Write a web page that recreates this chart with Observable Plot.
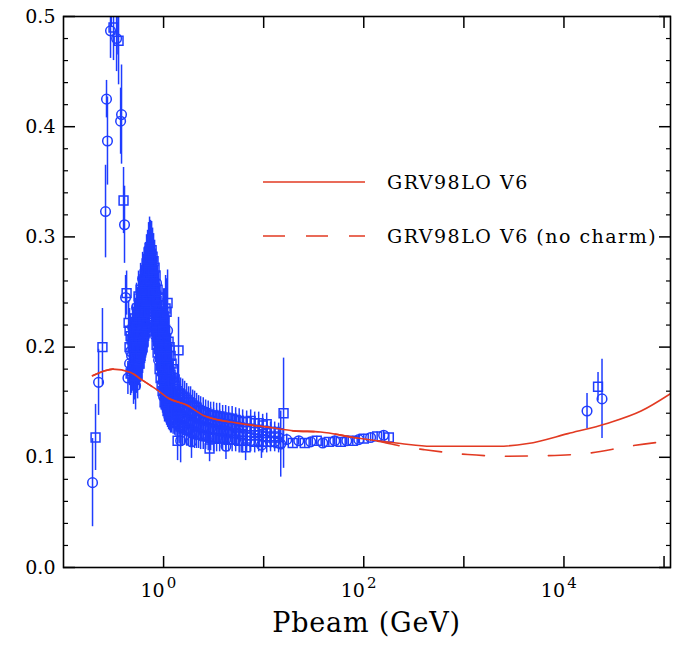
<!DOCTYPE html>
<html><head><meta charset="utf-8">
<script src="https://cdn.jsdelivr.net/npm/d3@7"></script>
<script src="https://cdn.jsdelivr.net/npm/@observablehq/plot@0.6"></script>
<style>
body{margin:0;background:#fff;}
#wrap{position:relative;width:679px;height:646px;font-family:"DejaVu Serif",serif;background:#fff;}
#legend{position:absolute;left:0;top:0;pointer-events:none;}
#xtitle{position:absolute;left:63px;width:607px;top:607px;text-align:center;font-size:27px;letter-spacing:0.8px;color:#000;}
</style></head><body><div id="wrap"></div>
<script>
// ---- data: isolated low-momentum points ----
const lowP = [0.195, 0.209, 0.224, 0.245, 0.263, 0.269, 0.275, 0.295, 0.300, 0.316, 0.339, 0.350, 0.355, 0.372, 0.380, 0.398, 0.407, 0.417, 0.427, 0.447, 0.440];
const lowV = [0.077, 0.118, 0.168, 0.200, 0.323, 0.425, 0.387, 0.487, 0.530, 0.490, 0.480, 0.515, 0.478, 0.405, 0.411, 0.333, 0.311, 0.245, 0.249, 0.222, 0.172];
const lowE = [0.040, 0.030, 0.030, 0.035, 0.042, 0.017, 0.040, 0.025, 0.040, 0.030, 0.030, 0.050, 0.040, 0.030, 0.045, 0.030, 0.035, 0.020, 0.020, 0.020, 0.015];
const lowS = ["o","s","o","s","o","o","o","o","o","s","o","s","s","o","o","s","o","o","s","s","o"];

// ---- resonance peak cluster ----
const peakP = [0.457,0.457,0.457, 0.479,0.479,0.479, 0.501,0.501,0.501,0.501, 0.525,0.525,0.525,0.525, 0.550,0.550,0.550,0.550, 0.575,0.575,0.575,0.575, 0.603,0.603,0.603,0.603, 0.631,0.631,0.631,0.631, 0.661,0.661,0.661,0.661, 0.692,0.692,0.692,0.692, 0.724,0.724,0.724,0.724, 0.741,0.741, 0.759,0.759,0.759,0.759, 0.794,0.794,0.794,0.794, 0.832,0.832,0.832,0.832, 0.871,0.871,0.871,0.871, 0.912,0.912,0.912,0.912, 0.955,0.955,0.955,0.955, 1.000,1.000,1.000,1.000,1.000, 1.047,1.047,1.047,1.047,1.047, 1.096,1.096,1.096,1.096,1.096,1.096, 1.148,1.148,1.148,1.148,1.148, 1.202,1.202,1.202,1.202,1.202, 1.288,1.288,1.288,1.288];
const peakV = [0.185,0.200,0.215, 0.178,0.192,0.207, 0.170,0.183,0.198,0.212, 0.165,0.190,0.205,0.222, 0.175,0.195,0.213,0.232, 0.185,0.205,0.222,0.240, 0.195,0.213,0.232,0.250, 0.205,0.225,0.243,0.258, 0.215,0.235,0.255,0.270, 0.225,0.245,0.262,0.280, 0.240,0.258,0.275,0.290, 0.268,0.285, 0.235,0.255,0.272,0.288, 0.225,0.245,0.262,0.278, 0.210,0.230,0.250,0.265, 0.195,0.215,0.235,0.252, 0.180,0.200,0.218,0.238, 0.165,0.185,0.205,0.222, 0.155,0.170,0.190,0.208,0.228, 0.148,0.162,0.178,0.196,0.235, 0.142,0.155,0.170,0.185,0.240,0.215, 0.138,0.150,0.163,0.178,0.200, 0.135,0.146,0.158,0.172,0.185, 0.132,0.142,0.153,0.165];
const peakE = [0.020,0.020,0.020, 0.020,0.020,0.020, 0.022,0.022,0.022,0.022, 0.022,0.022,0.022,0.022, 0.022,0.022,0.022,0.022, 0.024,0.024,0.024,0.024, 0.024,0.024,0.024,0.024, 0.025,0.025,0.025,0.025, 0.025,0.025,0.025,0.025, 0.026,0.026,0.026,0.026, 0.028,0.028,0.028,0.028, 0.030,0.030, 0.026,0.026,0.026,0.026, 0.025,0.025,0.025,0.025, 0.024,0.024,0.024,0.024, 0.022,0.022,0.022,0.022, 0.020,0.020,0.020,0.020, 0.020,0.020,0.020,0.020, 0.018,0.018,0.018,0.018,0.025, 0.016,0.016,0.016,0.016,0.030, 0.015,0.015,0.015,0.015,0.030,0.020, 0.014,0.014,0.014,0.014,0.020, 0.013,0.013,0.013,0.013,0.018, 0.012,0.012,0.012,0.012];
const peakS = ["o","s","s", "s","o","s", "o","s","s","o", "o","s","s","s", "s","o","s","s", "s","s","o","s", "o","s","s","s", "s","s","o","s", "s","s","s","o", "o","s","s","s", "s","s","o","s", "s","o", "s","o","s","s", "s","s","o","s", "o","s","s","s", "s","s","o","s", "s","o","s","s", "s","s","s","o", "o","s","s","s","s", "s","s","o","s","s", "s","o","s","s","s","o", "o","s","s","s","s", "s","s","o","s","s", "s","o","s","s"];

// ---- additional peak measurements (interleaved) ----
const peak2P = [0.468,0.468,0.468, 0.490,0.490,0.490, 0.513,0.513,0.513,0.513, 0.537,0.537,0.537,0.537, 0.562,0.562,0.562,0.562, 0.589,0.589,0.589,0.589, 0.617,0.617,0.617,0.617, 0.646,0.646,0.646,0.646, 0.676,0.676,0.676,0.676, 0.708,0.708,0.708,0.708, 0.776,0.776,0.776,0.776, 0.813,0.813,0.813,0.813, 0.851,0.851,0.851,0.851, 0.891,0.891,0.891,0.891, 0.933,0.933,0.933,0.933, 0.977,0.977,0.977,0.977, 1.023,1.023,1.023,1.023,1.023, 1.072,1.072,1.072,1.072,1.072, 1.122,1.122,1.122,1.122,1.122, 1.175,1.175,1.175,1.175,1.175, 1.245,1.245,1.245,1.245,1.245, 1.33,1.33,1.33,1.33];
const peak2V = [0.176,0.196,0.210, 0.181,0.200,0.218, 0.174,0.188,0.204,0.226, 0.180,0.200,0.218,0.236, 0.188,0.210,0.228,0.246, 0.192,0.218,0.238,0.252, 0.200,0.222,0.240,0.262, 0.210,0.232,0.250,0.266, 0.220,0.242,0.262,0.276, 0.232,0.252,0.270,0.286, 0.230,0.250,0.268,0.282, 0.218,0.238,0.256,0.272, 0.202,0.222,0.242,0.258, 0.188,0.208,0.228,0.245, 0.172,0.192,0.212,0.230, 0.160,0.178,0.198,0.215, 0.150,0.166,0.184,0.202,0.225, 0.145,0.158,0.174,0.190,0.232, 0.140,0.152,0.166,0.182,0.205, 0.136,0.148,0.160,0.175,0.192, 0.134,0.144,0.156,0.168,0.180, 0.131,0.141,0.151,0.162];
const peak2E = [0.020,0.020,0.020, 0.021,0.021,0.021, 0.022,0.022,0.022,0.022, 0.022,0.022,0.022,0.022, 0.023,0.023,0.023,0.023, 0.024,0.024,0.024,0.024, 0.024,0.024,0.024,0.024, 0.025,0.025,0.025,0.025, 0.026,0.026,0.026,0.026, 0.027,0.027,0.027,0.027, 0.026,0.026,0.026,0.026, 0.025,0.025,0.025,0.025, 0.024,0.024,0.024,0.024, 0.022,0.022,0.022,0.022, 0.021,0.021,0.021,0.021, 0.020,0.020,0.020,0.020, 0.018,0.018,0.018,0.018,0.028, 0.016,0.016,0.016,0.016,0.030, 0.015,0.015,0.015,0.015,0.022, 0.014,0.014,0.014,0.014,0.020, 0.013,0.013,0.013,0.013,0.016, 0.012,0.012,0.012,0.012];
const peak2S = ["s","o","s", "s","s","o", "s","o","s","s", "o","s","s","o", "s","s","s","s", "s","o","s","s", "s","s","s","o", "o","s","s","s", "s","s","o","s", "s","o","s","s", "o","s","s","s", "s","o","s","s", "s","s","s","o", "o","s","s","s", "s","s","o","s", "s","o","s","s", "s","s","s","o","s", "o","s","s","s","s", "s","s","o","s","s", "s","o","s","s","s", "o","s","s","s","s", "s","s","o","s"];

// ---- falling tail ----
const tailP = [1.380,1.380,1.380,1.380, 1.479,1.479,1.479,1.479, 1.622,1.622,1.622,1.622, 1.778,1.778,1.778,1.778, 1.950,1.950,1.950,1.950, 2.138,2.138,2.138,2.138, 2.344,2.344,2.344,2.344, 2.630,2.630,2.630,2.630, 2.951,2.951,2.951,2.951, 3.388,3.388,3.388,3.388, 3.890,3.890,3.890,3.890, 4.467,4.467,4.467,4.467, 5.248,5.248,5.248,5.248, 6.166,6.166,6.166,6.166, 7.413,7.413,7.413,7.413, 8.913,8.913,8.913,8.913, 10.72,10.72,10.72,10.72, 12.88,12.88,12.88];
const tailV = [0.130,0.140,0.150,0.160, 0.128,0.137,0.147,0.157, 0.126,0.135,0.145,0.154, 0.124,0.133,0.142,0.150, 0.123,0.131,0.140,0.147, 0.121,0.129,0.137,0.145, 0.120,0.128,0.135,0.142, 0.119,0.127,0.134,0.140, 0.118,0.126,0.133,0.138, 0.117,0.125,0.131,0.137, 0.117,0.124,0.130,0.136, 0.116,0.123,0.129,0.135, 0.116,0.122,0.128,0.134, 0.115,0.121,0.127,0.132, 0.115,0.120,0.126,0.133, 0.115,0.120,0.125,0.131, 0.114,0.119,0.124,0.130, 0.114,0.119,0.123];
const tailE = [0.016,0.016,0.016,0.016, 0.015,0.015,0.015,0.015, 0.015,0.015,0.015,0.015, 0.014,0.014,0.014,0.014, 0.014,0.014,0.014,0.014, 0.013,0.013,0.013,0.013, 0.013,0.013,0.013,0.013, 0.012,0.012,0.012,0.012, 0.012,0.012,0.012,0.012, 0.012,0.012,0.012,0.012, 0.011,0.011,0.011,0.011, 0.011,0.011,0.011,0.011, 0.011,0.011,0.011,0.011, 0.011,0.011,0.011,0.011, 0.010,0.010,0.010,0.010, 0.010,0.010,0.010,0.010, 0.010,0.010,0.010,0.010, 0.009,0.009,0.009];
const tailS = ["o","s","s","s", "s","s","o","s", "s","o","s","s", "o","s","s","s", "s","s","o","s", "s","o","s","s", "o","s","s","s", "s","s","o","s", "s","o","s","s", "o","s","s","s", "s","s","o","s", "s","o","s","s", "o","s","s","s", "s","s","o","s", "o","s","s","s", "s","o","s","s", "s","s","o","s", "o","s","s"];

// ---- additional tail measurements (interleaved) ----
const tail2P = [1.43,1.43,1.43,1.43, 1.55,1.55,1.55,1.55, 1.70,1.70,1.70,1.70, 1.86,1.86,1.86,1.86, 2.04,2.04,2.04,2.04, 2.24,2.24,2.24,2.24, 2.49,2.49,2.49,2.49, 2.79,2.79,2.79,2.79, 3.16,3.16,3.16,3.16, 3.63,3.63,3.63,3.63, 4.17,4.17,4.17,4.17, 4.84,4.84,4.84,4.84, 5.69,5.69,5.69,5.69, 6.76,6.76,6.76,6.76, 8.13,8.13,8.13,8.13, 9.77,9.77,9.77,9.77, 11.7,11.7,11.7, 14.1,14.1,14.1];
const tail2V = [0.129,0.138,0.148,0.158, 0.127,0.136,0.146,0.155, 0.125,0.134,0.143,0.152, 0.124,0.132,0.141,0.149, 0.122,0.130,0.138,0.146, 0.121,0.128,0.136,0.143, 0.120,0.127,0.134,0.141, 0.118,0.126,0.133,0.139, 0.117,0.125,0.132,0.138, 0.117,0.124,0.131,0.137, 0.116,0.123,0.130,0.136, 0.116,0.122,0.129,0.135, 0.115,0.121,0.127,0.133, 0.115,0.120,0.126,0.132, 0.114,0.120,0.125,0.131, 0.114,0.119,0.124,0.129, 0.114,0.118,0.123, 0.113,0.118,0.122];
const tail2E = [0.017,0.017,0.017,0.017, 0.016,0.016,0.016,0.016, 0.015,0.015,0.015,0.015, 0.015,0.015,0.015,0.015, 0.014,0.014,0.014,0.014, 0.013,0.013,0.013,0.013, 0.013,0.013,0.013,0.013, 0.012,0.012,0.012,0.012, 0.012,0.012,0.012,0.012, 0.012,0.012,0.012,0.012, 0.011,0.011,0.011,0.011, 0.011,0.011,0.011,0.011, 0.011,0.011,0.011,0.011, 0.010,0.010,0.010,0.010, 0.010,0.010,0.010,0.010, 0.010,0.010,0.010,0.010, 0.009,0.009,0.009, 0.009,0.009,0.009];
const tail2S = ["s","o","s","s", "o","s","s","s", "s","s","o","s", "s","o","s","s", "o","s","s","s", "s","s","o","s", "s","o","s","s", "o","s","s","s", "s","s","o","s", "s","o","s","s", "o","s","s","s", "s","s","o","s", "s","o","s","s", "o","s","s","s", "s","s","o","s", "s","o","s","s", "o","s","s", "s","o","s"];

// ---- flat region ----
const flatP = [16.98, 19.5, 22.4, 25.7, 29.5, 33.9, 38.9, 44.7, 51.3, 58.9, 67.6, 77.6, 89.1, 100, 117, 136, 158, 178];
const flatV = [0.116, 0.113, 0.115, 0.113, 0.114, 0.115, 0.113, 0.114, 0.115, 0.114, 0.115, 0.115, 0.116, 0.117, 0.118, 0.119, 0.120, 0.118];
const flatE = [0.005, 0.004, 0.004, 0.004, 0.004, 0.004, 0.004, 0.004, 0.004, 0.004, 0.004, 0.004, 0.004, 0.004, 0.004, 0.004, 0.004, 0.004];
const flatS = ["o","s","o","s","o","s","o","s","o","s","o","s","o","s","o","s","o","s"];

// ---- outliers ----
const outP = [1.41, 1.38, 1.48, 1.90, 2.88, 4.2, 6.6, 9.5, 15.8, 14.8];
const outV = [0.197, 0.115, 0.115, 0.114, 0.108, 0.110, 0.109, 0.111, 0.140, 0.112];
const outE = [0.030, 0.018, 0.020, 0.015, 0.012, 0.012, 0.012, 0.012, 0.050, 0.030];
const outS = ["s","s","o","o","s","o","s","o","s","o"];

// ---- high-energy points ----
const hiP = [17000, 21900, 24000];
const hiV = [0.142, 0.164, 0.153];
const hiE = [0.016, 0.013, 0.036];
const hiS = ["o","s","o"];

// ---- theory curves ----
const fullP = [0.195, 0.25, 0.31, 0.47, 0.59, 0.93, 1.1, 1.74, 2.5, 5.5, 11.7, 20, 37, 79, 234, 468, 2190, 4365, 10960, 27500, 58900, 117000];
const fullV = [0.174, 0.178, 0.180, 0.177, 0.171, 0.159, 0.154, 0.147, 0.138, 0.131, 0.127, 0.124, 0.123, 0.118, 0.1125, 0.110, 0.110, 0.1125, 0.1215, 0.131, 0.142, 0.158];
const noCharmP = [0.195, 0.25, 0.31, 0.47, 0.59, 0.93, 1.1, 1.74, 2.5, 5.5, 11.7, 20, 37, 79, 160, 275, 398, 1096, 2754, 6918, 18620, 44670, 117000];
const noCharmV = [0.174, 0.178, 0.180, 0.177, 0.171, 0.159, 0.154, 0.147, 0.138, 0.131, 0.127, 0.124, 0.123, 0.118, 0.1135, 0.109, 0.107, 0.1025, 0.101, 0.1015, 0.104, 0.110, 0.115];
const seriesNames = ["GRV98LO V6", "GRV98LO V6 (no charm)"];

// ---- ticks ----
const yMajor = [0, 0.1, 0.2, 0.3, 0.4, 0.5];
const yMinor = [0.02,0.04,0.06,0.08,0.12,0.14,0.16,0.18,0.22,0.24,0.26,0.28,0.32,0.34,0.36,0.38,0.42,0.44,0.46,0.48];
const xMajor = [1, 10, 100, 1000, 10000, 100000];
const xLabelTicks = [1, 100, 10000];
const xTickBase = "10";
const xTickExps = ["0", "2", "4"];
const xTitle = "Pbeam (GeV)";

const blue = "#1f3dff", red = "#e23a22";

const groups = [[lowP,lowV,lowE,lowS],[peakP,peakV,peakE,peakS],[peak2P,peak2V,peak2E,peak2S],[tailP,tailV,tailE,tailS],[tail2P,tail2V,tail2E,tail2S],[flatP,flatV,flatE,flatS],[outP,outV,outE,outS],[hiP,hiV,hiE,hiS]];
const points = groups.flatMap(([P,V,E,S]) => P.map((p,i) => ({p, v: V[i], e: E[i], s: S[i]})));
const full = fullP.map((p,i) => ({p, v: fullV[i]}));
const noCharm = noCharmP.map((p,i) => ({p, v: noCharmV[i]}));
const blank = () => "";

const chart = Plot.plot({
  width: 679, height: 604,
  marginLeft: 63, marginRight: 9, marginTop: 16, marginBottom: 37,
  style: {fontFamily: "DejaVu Serif, serif", fontSize: "19px", color: "#000", background: "#fff"},
  x: {type: "log", domain: [0.1, 116000]},
  y: {domain: [0, 0.5]},
  marks: [
    Plot.ruleX(points, {x: "p", y1: d => d.v - d.e, y2: d => d.v + d.e, stroke: blue, strokeWidth: 1.5, clip: true}),
    Plot.dot(points.filter(d => d.s === "o"), {x: "p", y: "v", r: 4.8, stroke: blue, strokeWidth: 1.5, fill: "none", clip: true}),
    Plot.dot(points.filter(d => d.s === "s"), {x: "p", y: "v", r: 5, symbol: "square", stroke: blue, strokeWidth: 1.5, fill: "none", clip: true}),
    Plot.line(noCharm, {x: "p", y: "v", stroke: red, strokeWidth: 1.6, strokeDasharray: "22,21", curve: "monotone-x", clip: true}),
    Plot.line(full, {x: "p", y: "v", stroke: red, strokeWidth: 1.6, curve: "monotone-x", clip: true}),
    Plot.axisY({ticks: yMajor, tickSize: 0, tickPadding: 8, tickFormat: d3.format(".1f"), label: null}),
    Plot.axisY({ticks: yMajor, tickSize: -12, tickFormat: blank, label: null, strokeWidth: 1.5}),
    Plot.axisY({ticks: yMinor, tickSize: -5, tickFormat: blank, label: null, strokeWidth: 1.2}),
    Plot.axisY({anchor: "right", ticks: yMajor, tickSize: -12, tickFormat: blank, label: null, strokeWidth: 1.5}),
    Plot.axisY({anchor: "right", ticks: yMinor, tickSize: -5, tickFormat: blank, label: null, strokeWidth: 1.2}),
    Plot.axisX({ticks: xLabelTicks, tickSize: 0, tickPadding: 16, tickFormat: () => xTickBase, dx: -11, label: null}),
    Plot.axisX({ticks: xLabelTicks, tickSize: 0, tickPadding: 10, tickFormat: d => xTickExps[xLabelTicks.indexOf(d)], dx: 8, fontSize: 15, label: null}),
    Plot.axisX({ticks: xMajor, tickSize: -11, tickFormat: blank, label: null, strokeWidth: 1.5}),
    Plot.axisX({anchor: "top", ticks: xMajor, tickSize: -11, tickFormat: blank, label: null, strokeWidth: 1.5}),
    Plot.frame({stroke: "#000", strokeWidth: 1.6})
  ]
});

const wrap = document.getElementById("wrap");
wrap.appendChild(chart);

const title = document.createElement("div");
title.id = "xtitle";
title.textContent = xTitle;
wrap.appendChild(title);

// legend overlay
const ns = "http://www.w3.org/2000/svg";
const leg = document.createElementNS(ns, "svg");
leg.setAttribute("id", "legend");
leg.setAttribute("width", 679);
leg.setAttribute("height", 646);
const legendRows = [{y: 182, dash: null}, {y: 236, dash: "22,21"}];
legendRows.forEach((row, i) => {
  const ln = document.createElementNS(ns, "line");
  ln.setAttribute("x1", 263); ln.setAttribute("x2", 365);
  ln.setAttribute("y1", row.y); ln.setAttribute("y2", row.y);
  ln.setAttribute("stroke", red); ln.setAttribute("stroke-width", 1.6);
  if (row.dash) ln.setAttribute("stroke-dasharray", row.dash);
  leg.appendChild(ln);
  const tx = document.createElementNS(ns, "text");
  tx.setAttribute("x", 387); tx.setAttribute("y", row.y + 7);
  tx.setAttribute("font-family", "DejaVu Serif, serif");
  tx.setAttribute("font-size", 19);
  tx.setAttribute("letter-spacing", 1.5);
  tx.textContent = seriesNames[i];
  leg.appendChild(tx);
});
wrap.appendChild(leg);
</script>
</body></html>
